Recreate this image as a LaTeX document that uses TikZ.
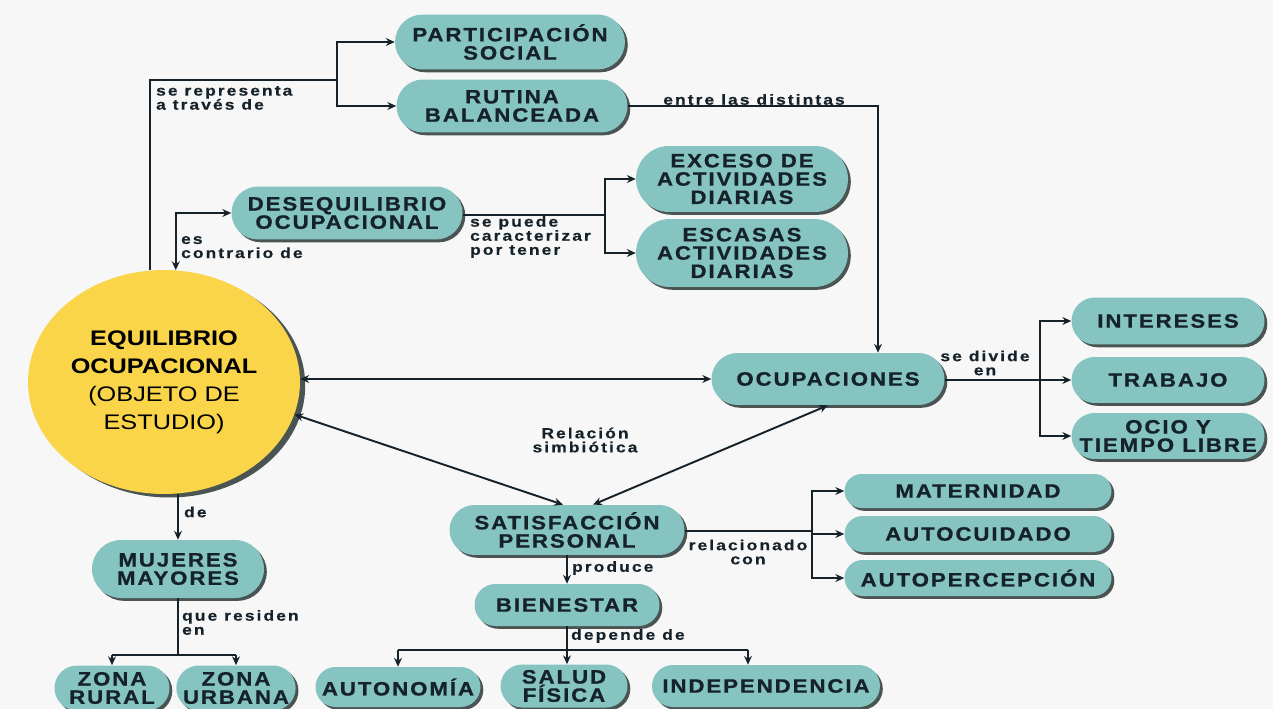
\documentclass[tikz,border=0pt]{standalone}
\usepackage{fontspec}
\setmainfont{Liberation Sans}
\newfontfamily\pillfont[FakeStretch=1.15,LetterSpace=10,FakeBold=0.8]{Liberation Sans}
\newfontfamily\linkfont[FakeStretch=1.2,LetterSpace=14,FakeBold=0.4]{Liberation Sans}
\newfontfamily\circfont[FakeStretch=1.2]{Liberation Sans}
\usetikzlibrary{shapes.misc,shapes.geometric,arrows.meta,shadows,positioning}

\definecolor{pillteal}{HTML}{85C4C1}
\definecolor{pillshade}{HTML}{4A5553}
\definecolor{pillink}{HTML}{16222A}
\definecolor{circyellow}{HTML}{FAD54A}
\definecolor{paper}{HTML}{F7F7F7}

\tikzset{
  pill/.style={rounded rectangle, fill=pillteal, text=pillink, align=center, inner sep=0pt,
    font=\pillfont\bfseries\fontsize{11}{10.4}\selectfont,
    drop shadow={shadow xshift=1.6pt, shadow yshift=-1.6pt, fill=pillshade, opacity=1}},
  linklbl/.style={font=\linkfont\bfseries\fontsize{8.3}{8}\selectfont, text=pillink,
    inner sep=1pt, align=left},
  link/.style={draw=pillink, line width=1.1pt},
  arr/.style={link, -{Stealth[length=5pt,width=4.5pt]}},
  arrs/.style={link, {Stealth[length=5pt,width=4.5pt]}-{Stealth[length=5pt,width=4.5pt]}},
}

\begin{document}
\begin{tikzpicture}[x=0.02cm,y=-0.02cm]
\fill[paper] (0,0) rectangle (1273,709);
\useasboundingbox (0,0) rectangle (1273,709);

\node[ellipse, fill=circyellow, inner sep=0pt, minimum width=5.44cm, minimum height=4.48cm,
  align=center, text=black, font=\circfont\fontsize{12}{15.9}\selectfont,
  drop shadow={shadow xshift=3pt, shadow yshift=-2pt, fill=pillshade, opacity=1}]
  (equi) at (164,382) {\textbf{EQUILIBRIO}\\\textbf{OCUPACIONAL}\\(OBJETO DE\\ESTUDIO)};

\node[pill, minimum width=4.6cm, minimum height=1.1cm] (part) at (510,42) {PARTICIPACIÓN\\SOCIAL};
\node[pill, minimum width=4.62cm, minimum height=1.06cm] (rutina) at (512,106) {RUTINA\\BALANCEADA};
\node[pill, minimum width=4.62cm, minimum height=1.06cm] (deseq) at (347,213) {DESEQUILIBRIO\\OCUPACIONAL};
\node[pill, minimum width=4.24cm, minimum height=1.32cm] (exceso) at (742,179) {EXCESO DE\\ACTIVIDADES\\DIARIAS};
\node[pill, minimum width=4.24cm, minimum height=1.36cm] (escasas) at (742,253) {ESCASAS\\ACTIVIDADES\\DIARIAS};
\node[pill, minimum width=4.66cm, minimum height=1.04cm] (ocup) at (828,379) {OCUPACIONES};
\node[pill, minimum width=3.86cm, minimum height=0.94cm] (inter) at (1168,321) {INTERESES};
\node[pill, minimum width=3.86cm, minimum height=0.92cm] (trab) at (1168,380) {TRABAJO};
\node[pill, minimum width=3.86cm, minimum height=0.92cm] (ocio) at (1168,436) {OCIO Y\\TIEMPO LIBRE};
\node[pill, minimum width=3.44cm, minimum height=1.16cm] (mujer) at (178,569) {MUJERES\\MAYORES};
\node[pill, minimum width=2.3cm, minimum height=0.9cm] (rural) at (112,688) {ZONA\\RURAL};
\node[pill, minimum width=2.2cm, minimum height=0.9cm] (urbana) at (236,688) {ZONA\\URBANA};
\node[pill, minimum width=4.7cm, minimum height=1cm] (satis) at (567,530) {SATISFACCIÓN\\PERSONAL};
\node[pill, minimum width=3.7cm, minimum height=0.84cm] (bien) at (567,605) {BIENESTAR};
\node[pill, minimum width=3.3cm, minimum height=0.8cm] (auton) at (398,687) {AUTONOMÍA};
\node[pill, minimum width=2.54cm, minimum height=0.86cm] (salud) at (564,686) {SALUD\\FÍSICA};
\node[pill, minimum width=4.56cm, minimum height=0.84cm] (indep) at (766,686) {INDEPENDENCIA};
\node[pill, minimum width=5.34cm, minimum height=0.68cm] (mater) at (978,491) {MATERNIDAD};
\node[pill, minimum width=5.34cm, minimum height=0.72cm] (autoc) at (978,534) {AUTOCUIDADO};
\node[pill, minimum width=5.34cm, minimum height=0.72cm] (autop) at (978,578) {AUTOPERCEPCIÓN};

\coordinate (repsplit) at (337,80);
\draw[link] (equi.97) |- (repsplit);
\draw[arr] (repsplit) |- (part);
\draw[arr] (repsplit) |- (rutina);
\node[linklbl, anchor=north west] (lrep) at (154,84) {se representa\\a través de};

\draw[arrs] (deseq.west) -| (equi.84);
\node[linklbl, anchor=north west] (lcontra) at (179,234) {es\\contrario de};

\coordinate (carsplit) at (605,215);
\draw[link] (deseq.east |- carsplit) -- (carsplit);
\draw[arr] (carsplit) |- (exceso);
\draw[arr] (carsplit) |- (escasas);
\node[linklbl, anchor=north west] (lcar) at (468,214) {se puede\\caracterizar\\por tener};

\draw[arr] (rutina.east) -| ([xshift=1cm]ocup.north);
\node[linklbl, anchor=south] (lentre) at (754,107) {entre las distintas};

\draw[arrs] (equi.east |- ocup.west) -- (ocup.west);
\draw[arrs] (equi.-14) -- ([xshift=-0.08cm]satis.north);
\draw[arrs] (ocup.south) -- ([xshift=0.52cm]satis.north);
\node[linklbl, align=center] (lsimb) at (585,440) {Relación\\simbiótica};

\coordinate (divsplit) at (1040,380);
\draw[link] (ocup.east |- divsplit) -- (divsplit);
\draw[arr] (divsplit) |- (inter);
\draw[arr] (divsplit) -- (trab.west |- divsplit);
\draw[arr] (divsplit) |- (ocio);
\node[linklbl, align=center] (ldiv) at (985,363) {se divide\\en};

\draw[arr] (equi.south -| mujer.north) -- (mujer.north);
\node[linklbl, anchor=west] (lde) at (182,512) {de};

\coordinate (zonsplit) at (178,655);
\draw[link] (mujer.south) -- (zonsplit);
\draw[link] (rural.north |- zonsplit) -- (urbana.north |- zonsplit);
\draw[arr] (rural.north |- zonsplit) -- (rural.north);
\draw[arr] (urbana.north |- zonsplit) -- (urbana.north);
\node[linklbl, anchor=north west] (lres) at (180,608) {que residen\\en};

\draw[arr] (satis.south) -- (bien.north);
\node[linklbl, anchor=west] (lprod) at (570,568) {produce};

\coordinate (depsplit) at (567,650);
\draw[link] (bien.south) -- (depsplit);
\draw[link] (auton.north |- depsplit) -- ([xshift=-0.36cm]indep.north |- depsplit);
\draw[arr] (auton.north |- depsplit) -- (auton.north);
\draw[arr] (depsplit) -- (salud.north -| depsplit);
\draw[arr] ([xshift=-0.36cm]indep.north |- depsplit) -- ([xshift=-0.36cm]indep.north);
\node[linklbl, anchor=west] (ldep) at (569,636) {depende de};

\coordinate (relsplit) at (812,531);
\draw[link] (satis.east |- relsplit) -- (relsplit);
\draw[arr] (relsplit) |- (mater);
\draw[arr] (relsplit) |- (autoc);
\draw[arr] (relsplit) |- (autop);
\node[linklbl, align=center] (lrel) at (748,552) {relacionado\\con};
\end{tikzpicture}
\end{document}
